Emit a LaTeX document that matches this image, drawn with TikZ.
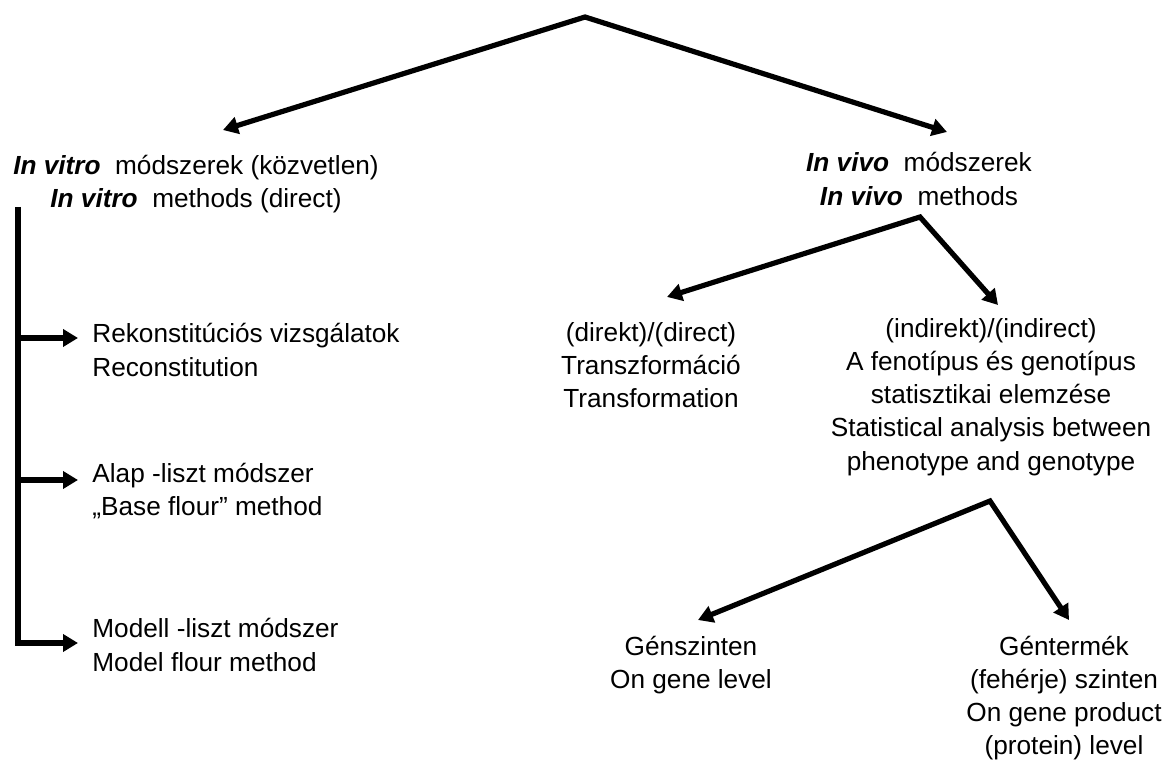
\documentclass[tikz,border=0pt]{standalone}
\usepackage{fontspec}
\setmainfont{Liberation Sans}
\usetikzlibrary{arrows.meta}
\newcommand\emphlat[1]{\textbf{\textit{#1}}}

\begin{document}
\begin{tikzpicture}[x=0.5pt,y=-0.5pt]
\def \lw {2.6pt}
\tikzset{txt/.style={align=center,inner sep=0pt,font=\fontsize{13.1}{16.6}\selectfont},
  lefttxt/.style={txt,align=left,anchor=west},
  arr/.style={line width=\lw,line join=miter,-{Triangle[length=7.5pt,width=8.5pt]}},
  twoarr/.style={line width=\lw,line join=miter,{Triangle[length=7.5pt,width=8.5pt]}-{Triangle[length=7.5pt,width=8.5pt]}}}
\useasboundingbox (0,0) rectangle (1166,763);

% text nodes
\draw (196,184) node[txt] (invitro) {\emphlat{In vitro}\ \ módszerek (közvetlen)\\\emphlat{In vitro}\ \ methods (direct)};
\draw (919,179) node[txt] (invivo) {\emphlat{In vivo}\ \ módszerek\\\emphlat{In vivo}\ \ methods};
\draw (92,350) node[lefttxt] (rek) {Rekonstitúciós vizsgálatok\\Reconstitution};
\draw (92,491) node[lefttxt] (alap) {Alap -liszt módszer\\„Base flour” method};
\draw (92,645) node[lefttxt] (modell) {Modell -liszt módszer\\Model flour method};
\draw (651,365) node[txt] (direkt) {(direkt)/(direct)\\Transzformáció\\Transformation};
\draw (991,397) node[txt] (indirekt) {(indirekt)/(indirect)\\A fenotípus és genotípus\\statisztikai elemzése\\Statistical analysis between\\phenotype and genotype};
\draw (691,665) node[txt] (gen) {Génszinten\\On gene level};
\draw (1064,698) node[txt] (product) {Géntermék\\(fehérje) szinten\\On gene product\\(protein) level};

% split points and arrow tips
\coordinate (top) at (585,17);
\coordinate (tvitro) at (223,130);
\coordinate (tvivo) at (947,132);
\coordinate (vivosplit) at (920,217);
\coordinate (tdirekt) at (667,297);
\coordinate (tindirekt) at (998,305);
\coordinate (indsplit) at (990,501);
\coordinate (tgen) at (698,620);
\coordinate (tproduct) at (1069,620);
\coordinate (bartop) at (18,207);
\coordinate (barbot) at (18,643);
\coordinate (tmodell) at (78,643);

\draw[twoarr] (tvitro) -- (top) -- (tvivo);
\draw[twoarr] (tdirekt) -- (vivosplit) -- (tindirekt);
\draw[twoarr] (tgen) -- (indsplit) -- (tproduct);

% left bar
\draw[arr] (bartop) -- (barbot) -- (tmodell);
\path[arr] (18,338) edge (78,338);
\path[arr] (18,480) edge (78,480);
\end{tikzpicture}
\end{document}
